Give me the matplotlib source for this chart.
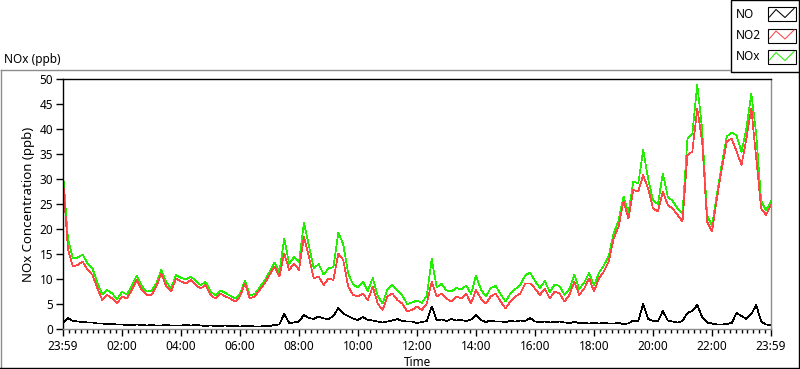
import matplotlib
matplotlib.use('Agg')
import matplotlib.pyplot as plt
import numpy as np
from matplotlib.lines import Line2D
from matplotlib.patches import Rectangle

''' NOx / NO2 / NO daily trace, LabVIEW style graph '''

# sample times, minutes after midnight (first sample is 23:59 of the previous day)
minutes = np.arange(-1, 1440, 10)

# NO (ppb), one value per 10 min
no = [1.2, 2.2, 1.6, 1.5, 1.4, 1.3, 1.3, 1.1, 1.1, 1.0,
      1.0, 0.9, 0.9, 0.8, 0.8, 0.9, 0.8, 0.7, 0.8, 0.7,
      0.7, 0.8, 0.7, 0.7, 0.7, 0.8, 0.7, 0.8, 0.7, 0.6,
      0.7, 0.6, 0.6, 0.7, 0.6, 0.6, 0.5, 0.6, 0.6, 0.5,
      0.5, 0.6, 0.6, 0.8, 0.9, 3.0, 1.2, 1.3, 1.5, 2.8,
      2.2, 2.0, 2.5, 2.1, 2.0, 2.6, 4.2, 3.1, 2.6, 2.1,
      1.8, 2.4, 1.8, 1.7, 1.5, 1.3, 1.5, 1.7, 2.0, 1.6,
      1.5, 1.5, 1.2, 1.4, 1.6, 4.5, 1.8, 1.9, 1.6, 2.0,
      1.7, 1.8, 1.6, 1.9, 2.9, 1.8, 1.4, 1.7, 1.5, 1.5,
      1.4, 1.6, 1.5, 1.7, 1.6, 2.2, 1.5, 1.4, 1.5, 1.3,
      1.4, 1.5, 1.3, 1.2, 1.4, 1.2, 1.2, 1.1, 1.2, 1.1,
      1.2, 1.1, 1.1, 1.2, 1.0, 1.1, 1.7, 1.6, 5.0, 2.0,
      1.6, 1.5, 3.6, 1.7, 1.5, 1.3, 1.6, 3.2, 3.6, 4.8,
      2.4, 1.3, 1.1, 0.9, 0.9, 1.0, 1.2, 3.2, 2.6, 2.0,
      3.0, 4.8, 1.5, 0.9, 0.8]

# NO2 (ppb)
no2 = [30.0, 16.0, 12.5, 12.8, 13.5, 11.8, 10.8, 8.1, 5.8, 6.8,
       6.1, 5.1, 6.5, 6.1, 7.8, 9.8, 7.8, 6.8, 6.8, 8.5,
       11.1, 8.5, 7.5, 10.1, 9.5, 9.1, 9.8, 8.8, 8.1, 8.8,
       6.8, 6.1, 7.1, 6.5, 6.1, 5.5, 6.5, 9.1, 6.1, 6.5,
       7.8, 9.1, 10.8, 12.5, 10.5, 15.1, 11.8, 13.1, 11.8, 18.5,
       14.5, 10.1, 10.5, 8.8, 10.1, 9.8, 15.1, 13.8, 8.5, 6.8,
       6.5, 7.1, 5.8, 8.5, 5.1, 3.8, 6.5, 7.1, 5.8, 5.1,
       3.5, 3.8, 4.5, 3.8, 5.1, 9.5, 6.5, 7.1, 6.1, 5.5,
       6.5, 6.1, 7.1, 5.1, 7.8, 6.1, 5.1, 6.5, 7.1, 5.5,
       4.1, 5.5, 6.5, 7.1, 9.1, 9.1, 8.1, 6.8, 8.1, 6.1,
       7.5, 7.1, 5.5, 6.8, 9.5, 6.8, 8.1, 10.1, 7.5, 10.1,
       11.5, 13.5, 18.1, 20.5, 25.5, 22.1, 27.8, 27.5, 30.8, 28.1,
       24.1, 23.5, 27.5, 24.8, 24.1, 22.8, 21.5, 34.8, 35.5, 44.1,
       37.5, 21.5, 19.5, 26.1, 32.1, 37.5, 38.1, 35.5, 32.8, 38.1,
       44.1, 34.1, 24.1, 22.8, 24.8]

# NOx is the sum of the two
nox = [a + b for a, b in zip(no, no2)]

major_hours = [0, 2, 4, 6, 8, 10, 12, 14, 16, 18, 20, 22, 24]
major_labels = ['23:59', '02:00', '04:00', '06:00', '08:00', '10:00', '12:00',
                '14:00', '16:00', '18:00', '20:00', '22:00', '23:59']
y_ticks = [0, 5, 10, 15, 20, 25, 30, 35, 40, 45, 50]

W, H = 800, 369
plt.rcParams['font.family'] = ['Noto Sans', 'DejaVu Sans']
plt.rcParams['font.size'] = 8.5

def fx(x):
    return x / W

def fy(y):
    return 1 - y / H

fig = plt.figure(figsize=(W / 100, H / 100), dpi=100)
fig.patch.set_facecolor('white')

# plot area in pixels: x 63..771, y 79..329
ax = fig.add_axes([fx(63), fy(329), (771 - 63) / W, (329 - 79) / H])
t = (minutes + 1) / 60.0
lw = 0.5
ax.plot(t, nox, color='#22ee00', lw=lw, antialiased=False)
ax.plot(t, no2, color='#ff4545', lw=lw, antialiased=False)
ax.plot(t, no, color='black', lw=lw, antialiased=False)

ax.set_xlim(0, 24)
ax.set_ylim(0, 50)
ax.set_xticks(major_hours)
ax.set_xticklabels(major_labels)
ax.set_xticks([h for h in np.arange(0.2, 24, 0.2) if abs(h / 2 - round(h / 2)) > 1e-6], minor=True)
ax.set_yticks(y_ticks)
ax.tick_params(axis='x', which='major', length=5, width=1, pad=3, direction='out')
ax.tick_params(axis='x', which='minor', length=3, width=1, direction='out')
ax.tick_params(axis='y', length=5, width=1, pad=2, direction='out')

for s in ('top', 'left'):
    ax.spines[s].set_color('black')
    ax.spines[s].set_linewidth(1.0)
for s in ('bottom', 'right'):
    ax.spines[s].set_color('#8c8c8c')
    ax.spines[s].set_linewidth(1.0)

ax.set_ylabel('NOx Concentration (ppb)', fontsize=9.5, labelpad=3)
fig.text(fx(417), fy(362), 'Time', ha='center', va='center')
fig.text(fx(4), fy(59), 'NOx (ppb)', ha='left', va='center')

# outer graph frame
fig.add_artist(Line2D([fx(0.5), fx(730)], [fy(69.5), fy(69.5)], color='#8c8c8c', lw=1))
fig.add_artist(Line2D([fx(0.5), fx(0.5)], [fy(69.5), fy(367.5)], color='#8c8c8c', lw=1))
fig.add_artist(Line2D([fx(0), fx(800)], [fy(367.5), fy(367.5)], color='black', lw=1))
fig.add_artist(Line2D([fx(799), fx(799)], [fy(72), fy(367.5)], color='black', lw=1))

# legend box
fig.add_artist(Rectangle((fx(730.5), fy(72)), fx(68), 72 / H, facecolor='white',
                         edgecolor='black', lw=1))
names = ['NO', 'NO2', 'NOx']
colors = ['black', '#ff4545', '#22ee00']
for k, (name, c) in enumerate(zip(names, colors)):
    top = 7 + k * 21.5
    fig.text(fx(736), fy(top + 7), name, ha='left', va='center')
    fig.add_artist(Rectangle((fx(768), fy(top + 14)), 28 / W, 14 / H, facecolor='white',
                             edgecolor='black', lw=0.8))
    zx = [769.5, 776, 785, 794]
    zy = [top + 10, top + 2.5, top + 10.5, top + 1.5]
    fig.add_artist(Line2D([fx(v) for v in zx], [fy(v) for v in zy], color=c, lw=0.75))

fig.savefig('out.png', dpi=100)
